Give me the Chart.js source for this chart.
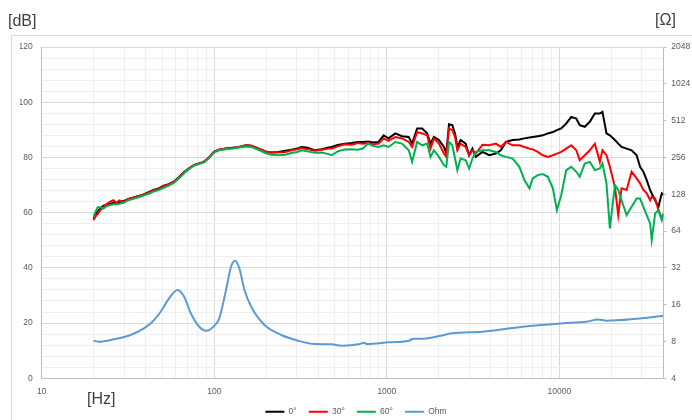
<!DOCTYPE html>
<html>
<head>
<meta charset="utf-8">
<script src="https://cdn.jsdelivr.net/npm/chart.js@4.4.0/dist/chart.umd.min.js"></script>
<style>
  body { margin: 0; background: #fff; }
  #wrap { position: relative; width: 692px; height: 420px; overflow: hidden; font-family: "Liberation Sans", Arial, sans-serif; }
  #frame { position: absolute; left: 11px; top: 35px; width: 720px; height: 420px; border: 1px solid #d9d9d9; }
  canvas { position: absolute; left: 0; top: 0; }
  .unit { position: absolute; font-size: 16px; line-height: 16px; color: #404040; white-space: nowrap; }
</style>
</head>
<body>
<div id="wrap">
  <div id="frame"></div>
  <canvas id="fr" width="692" height="420"></canvas>
  <div class="unit" style="left:8px; top:13px;">[dB]</div>
  <div class="unit" style="left:655px; top:12px;">[Ω]</div>
  <div class="unit" style="left:87px; top:391px;">[Hz]</div>
</div>
<script>
// frequency points (Hz) shared by the three SPL curves
let freqs = [20, 20.4, 21.1, 21.9, 22.8, 23.7, 25, 26, 27.1, 28.2, 29.8, 31.8, 34, 36.4, 38.9, 41.6, 44.5, 47.6, 50.9, 54.5,
  58.2, 62.3, 66.6, 71.2, 76.1, 81.4, 87.1, 93.1, 99.6, 106.5, 117, 128.5, 139.3, 153, 163.7, 179.7, 197.5, 214, 235, 258,
  280, 303, 320, 347, 381, 419, 460, 479, 519, 570, 626, 679, 725, 780, 830, 896, 958, 1024, 1119, 1225,
  1340, 1401, 1498, 1602, 1713, 1790, 1874, 2004, 2143, 2211, 2292, 2395, 2485, 2562, 2677, 2863, 2998, 3133, 3275, 3583,
  3920, 4282, 4579, 4898, 5358, 5863, 6269, 6704, 7007, 7493, 8013, 8570, 9165, 9670, 10244, 10955, 11716, 12529, 13118, 14028,
  15000, 16040, 17155, 17760, 18740, 19610, 20975, 21925, 22920, 24510, 26210, 28030, 29340, 30670, 32060, 33550, 34270, 35870, 37500, 39200,
  40000];

let spl0 = [57.8, 59, 60.5, 61.5, 62.5, 62.8, 63.2, 63.5, 63.6, 63.8, 64.2, 65, 65.5, 66, 66.6, 67.4, 68.2, 68.8, 69.8, 70.3,
  71.2, 72.8, 74.6, 76, 77.2, 77.8, 78.4, 80, 82, 82.8, 83.2, 83.5, 83.8, 84.4, 84.2, 83.3, 82.2, 81.8, 82, 82.4,
  82.8, 83.2, 83.8, 83.5, 82.6, 83, 83.6, 83.8, 84.5, 85, 85.2, 85.6, 85.6, 85.8, 85.4, 85.6, 88, 86.9, 88.7, 87.7,
  87.4, 85, 90.5, 90.5, 88.7, 85, 87.4, 86.3, 83.8, 81.4, 92, 91.7, 88.7, 83.8, 86.3, 85, 80.8, 83.2, 80.2, 82,
  80.8, 81.4, 82.6, 85.6, 86.3, 86.5, 86.9, 87.2, 87.4, 87.7, 88, 88.7, 89.2, 89.9, 90.5, 92.3, 94.7, 94.1, 91.7, 91.1,
  92.9, 95.9, 95.9, 96.5, 88.7, 88, 86.3, 85, 83.8, 83.2, 82.6, 80.8, 76.6, 74.8, 71.8, 68.2, 67, 64.5, 62.1, 67,
  66.5];

let spl30 = [57.3, 58.5, 59.5, 61, 62, 63, 64, 64.5, 63.6, 64.4, 63.8, 65, 65.4, 66, 66.5, 67.2, 68, 68.5, 69.6, 70.2,
  71, 72.6, 74.5, 76, 77.2, 77.8, 78.4, 80, 82, 82.8, 83.2, 83.4, 83.8, 84.4, 84.2, 83.3, 82.2, 81.8, 81.8, 82,
  82.6, 83, 83.4, 83, 82.4, 82.8, 83.2, 83.2, 84, 84.8, 84.6, 85.2, 85, 85.2, 84.8, 85, 86.9, 86, 87.4, 86.9,
  85.6, 83.8, 89.2, 88.7, 88, 83.2, 86.9, 85, 81.4, 80.2, 90.5, 89.9, 87.4, 82.6, 85, 83.8, 80.8, 82.6, 81.4, 84.6,
  84.4, 85, 83.8, 85.6, 84.4, 84.4, 83.8, 83.2, 82.9, 82, 80.8, 80.2, 80.8, 81.4, 82, 83.2, 84.4, 82.6, 79, 80.8,
  82.6, 85, 78.4, 82.6, 80.8, 76.6, 69.3, 59.1, 68.8, 68.2, 74.8, 72.4, 70.6, 68.2, 67, 64.5, 65.7, 65.1, 60.9, 57.9,
  59.7];

let spl60 = [58.5, 60, 62, 62, 61.5, 62.3, 62.8, 63, 63, 63.2, 63.6, 64.5, 65, 65.6, 66.2, 66.8, 67.6, 68.2, 69, 69.8,
  70.8, 72.4, 74.2, 75.7, 77, 77.6, 78.2, 79.8, 81.8, 82.6, 83, 83.2, 83.6, 84, 83.8, 82.8, 81.6, 81, 80.8, 81,
  81.6, 82, 82.6, 82.2, 81.7, 81.8, 81.2, 80.8, 82.2, 82.9, 83, 82.8, 83.2, 85, 84.2, 83.8, 84.4, 83.8, 85.6, 85,
  82.6, 78.4, 85.6, 84.4, 85, 80.2, 82.6, 80.2, 77.2, 76.6, 85.6, 84.4, 79.6, 75.4, 79.6, 79, 76, 79.6, 82, 82.6,
  82.6, 82, 80.8, 80.2, 79.6, 76.6, 71.8, 68.8, 72.4, 73.6, 74, 73, 68.8, 60.9, 66.3, 75.4, 76.6, 74.8, 73, 77.8,
  78.4, 75.4, 76, 77.8, 70.6, 54.3, 70, 68.2, 64.5, 59.1, 62.1, 65.1, 65.1, 62.1, 59.1, 56.1, 50.1, 59.7, 60.9, 57.3,
  59.5];

// impedance curve
let ohmFreqs = [20, 21.4, 26.1, 32.7, 39.1, 43.8, 48.9, 54.7, 61.2, 66.9, 73.1, 81.8, 90.3, 97.9, 106.9, 117, 125.1, 132, 139.8, 149.6,
  163.7, 195.6, 244.7, 306.3, 382.6, 478.7, 547.5, 685, 738.5, 765.6, 1024, 1340, 1433, 1639, 2004, 2395, 3583, 6130, 10480, 14330,
  16760, 18740, 26810, 40000];
let ohm = [8.12, 7.97, 8.33, 9.04, 10.25, 11.6, 14.0, 18.0, 21.1, 18.6, 13.6, 10.56, 9.79, 10.44, 12.37, 21.1, 32.7, 36.6, 31.7, 21.1,
  15.4, 10.9, 9.04, 8.12, 7.62, 7.58, 7.39, 7.58, 7.81, 7.62, 7.87, 8.12, 8.43, 8.43, 8.86, 9.33, 9.62, 10.56, 11.26, 11.6,
  12.13, 11.83, 12.2, 13.0];

let xTicks = [10, 20, 30, 40, 50, 60, 70, 80, 90, 100, 200, 300, 400, 500, 600, 700, 800, 900,
  1000, 2000, 3000, 4000, 5000, 6000, 7000, 8000, 9000, 10000, 20000, 30000, 40000];
let xLabels = [10, 100, 1000, 10000];
let ohmTicks = [4, 8, 16, 32, 64, 128, 256, 512, 1024, 2048];

function toPoints(xs, ys) { return xs.map((x, i) => ({ x: x, y: ys[i] })); }

let tickFont = { family: "'Liberation Sans', Arial, sans-serif", size: 8.5 };
let tickColor = "#595959";

let chart = new Chart(document.getElementById("fr").getContext("2d"), {
  type: "line",
  data: {
    datasets: [
      { label: "0°", data: toPoints(freqs, spl0), borderColor: "#000000", backgroundColor: "#000000", borderWidth: 2, pointRadius: 0, yAxisID: "y", order: 4 },
      { label: "30°", data: toPoints(freqs, spl30), borderColor: "#ff0000", backgroundColor: "#ff0000", borderWidth: 2, pointRadius: 0, yAxisID: "y", order: 3 },
      { label: "60°", data: toPoints(freqs, spl60), borderColor: "#00b050", backgroundColor: "#00b050", borderWidth: 2, pointRadius: 0, yAxisID: "y", order: 2 },
      { label: "Ohm", data: toPoints(ohmFreqs, ohm), borderColor: "#5b9bd5", backgroundColor: "#5b9bd5", borderWidth: 2, pointRadius: 0, tension: 0.4, cubicInterpolationMode: "monotone", yAxisID: "y2", order: 1 }
    ]
  },
  options: {
    responsive: false,
    animation: false,
    layout: { padding: { top: 47, left: 20, right: 0, bottom: -6 } },
    plugins: {
      tooltip: { enabled: false },
      legend: {
        position: "bottom",
        labels: {
          usePointStyle: true, pointStyle: "line", pointStyleWidth: 19, padding: 12,
          color: tickColor, font: tickFont,
          sort: (a, b) => a.datasetIndex - b.datasetIndex
        }
      }
    },
    scales: {
      x: {
        type: "logarithmic", min: 10, max: 40000,
        afterBuildTicks: s => { s.ticks = xTicks.map(v => ({ value: v })); },
        afterFit: s => { s.height = 17.2; },
        ticks: { autoSkip: false, maxRotation: 0, padding: 8, color: tickColor, font: tickFont,
          callback: v => xLabels.includes(v) ? String(v) : "" },
        grid: { drawTicks: false, color: c => (c.tick && xLabels.includes(c.tick.value)) ? "#d9d9d9" : "#efefef" },
        border: { color: "#bfbfbf" }
      },
      y: {
        position: "left", min: 0, max: 120,
        afterFit: s => { s.width = 21.7; },
        ticks: { stepSize: 4, autoSkip: false, padding: 9, color: tickColor, font: tickFont,
          callback: v => v % 20 === 0 ? String(v) : "" },
        grid: { drawTicks: false, color: c => (c.tick && c.tick.value % 20 === 0) ? "#d9d9d9" : "#efefef" },
        border: { color: "#bfbfbf" }
      },
      y2: {
        type: "logarithmic", position: "right", min: 4, max: 2048,
        afterBuildTicks: s => { s.ticks = ohmTicks.map(v => ({ value: v })); },
        afterFit: s => { s.width = 28.7; },
        ticks: { autoSkip: false, padding: 5, color: tickColor, font: tickFont, callback: v => String(v) },
        grid: { drawOnChartArea: false, tickLength: 3, color: "#bfbfbf" },
        border: { color: "#bfbfbf" }
      }
    }
  }
});
</script>
</body>
</html>
